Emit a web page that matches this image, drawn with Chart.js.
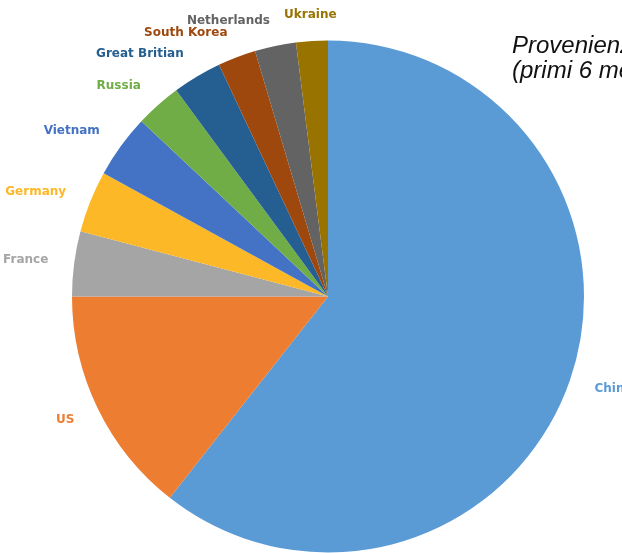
<!DOCTYPE html>
<html lang="it">
<head>
  <meta charset="UTF-8">
  <title>Provenienza</title>
  <script src="https://cdn.jsdelivr.net/npm/chart.js"></script>
  <style>
    html, body {
      margin: 0;
      padding: 0;
      background: #fff;
      overflow: hidden;
    }
    #wrap {
      position: relative;
      width: 622px;
      height: 553px;
      overflow: hidden;
    }
    #torta {
      position: absolute;
      left: 0;
      top: 0;
    }
    .titolo {
      position: absolute;
      left: 512px;
      top: 32px;
      font-family: "Liberation Sans", Arial, sans-serif;
      font-style: italic;
      font-size: 24px;
      line-height: 25px;
      color: #111;
      white-space: nowrap;
    }
  </style>
</head>
<body>
  <div id="wrap">
    <canvas id="torta" width="622" height="553"></canvas>
    <div class="titolo">Provenienza<br>(primi 6 mesi)</div>
  </div>

<script>
// paesi e quote (%)
const paesi = ["China", "US", "France", "Germany", "Vietnam", "Russia", "Great Britian", "South Korea", "Netherlands", "Ukraine"];
const quote = [60.6, 14.4, 4.1, 3.9, 4.0, 2.9, 3.1, 2.4, 2.6, 2.0];
const colori = ["#5b9bd5", "#ed7d31", "#a5a5a5", "#fdb827", "#4472c4", "#70ad47", "#255e91", "#9e480e", "#636363", "#997300"];

// etichette fuori dalla torta, allineate verso il bordo
const etichetteEsterne = {
  id: "etichetteEsterne",
  afterDatasetsDraw(chart) {
    const ctx = chart.ctx;
    const meta = chart.getDatasetMeta(0);
    ctx.save();
    ctx.font = "bold 12px 'DejaVu Sans'";
    ctx.textBaseline = "middle";
    meta.data.forEach((arc, i) => {
      const p = arc.getProps(["x", "y", "startAngle", "endAngle", "outerRadius"], true);
      const mid = (p.startAngle + p.endAngle) / 2;
      const R = p.outerRadius + 26;
      const x = p.x + Math.cos(mid) * R;
      const y = p.y + Math.sin(mid) * R;
      const c = Math.cos(mid);
      if (Math.abs(c) < 0.1) ctx.textAlign = "center";
      else ctx.textAlign = c < 0 ? "right" : "left";
      ctx.fillStyle = colori[i];
      ctx.fillText(paesi[i], x, y);
    });
    ctx.restore();
  }
};

new Chart(document.getElementById("torta"), {
  type: "pie",
  data: {
    labels: paesi,
    datasets: [{
      data: quote,
      backgroundColor: colori,
      borderWidth: 0
    }]
  },
  options: {
    responsive: false,
    animation: false,
    layout: {
      padding: { top: 40, bottom: 0, left: 72, right: 38 }
    },
    plugins: {
      legend: { display: false },
      tooltip: { enabled: false }
    }
  },
  plugins: [etichetteEsterne]
});
</script>
</body>
</html>
